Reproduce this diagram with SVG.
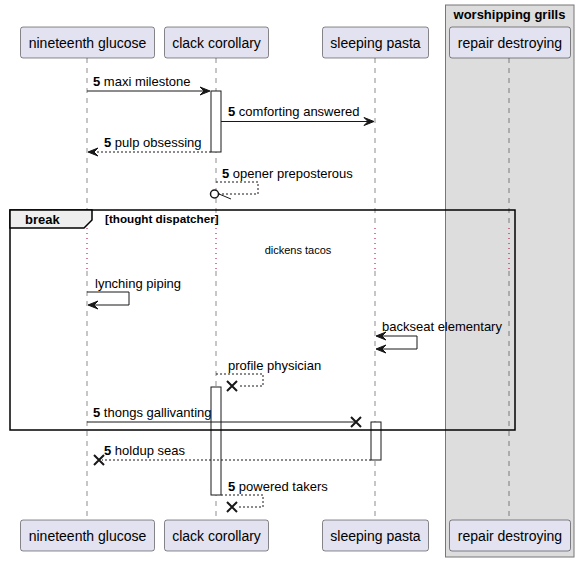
<svg xmlns="http://www.w3.org/2000/svg" width="579" height="562" viewBox="0 0 579 562">
<defs>
<style>
.p{fill:#E2E2F0;stroke:#181818;stroke-width:0.5}
.pt{font-family:"Liberation Sans",Arial,sans-serif;font-size:14px;fill:#000}
.m{font-family:"Liberation Sans",Arial,sans-serif;font-size:13px;fill:#000}
.b{font-weight:bold}
.ll{stroke:#181818;stroke-width:0.5;stroke-dasharray:5,5;fill:none}
.dl{stroke:#A80036;stroke-width:1;stroke-dasharray:1,4;fill:none}
.s{stroke:#181818;stroke-width:1;fill:none}
.d{stroke:#181818;stroke-width:1;stroke-dasharray:2,2;fill:none}
.ah{fill:#181818;stroke:#181818;stroke-width:1}
.act{fill:#FFFFFF;stroke:#181818;stroke-width:1}
.x{stroke:#181818;stroke-width:2;fill:none}
</style>
</defs>
<g id="box-worshipping-grills">
<rect x="445.5" y="5" width="128.5" height="552" fill="#DDDDDD" stroke="#777" stroke-width="1"/>
<text x="509.5" y="19" class="m b" text-anchor="middle">worshipping grills</text>
</g>
<g id="lifelines">
<path class="ll" d="M87,58 V228 M87,271 V520"/>
<path class="ll" d="M216,58 V228 M216,271 V520"/>
<path class="ll" d="M375,58 V228 M375,271 V520"/>
<path class="ll" d="M509,58 V228 M509,271 V520"/>
<path class="dl" d="M87,228 V271 M216,228 V271 M375,228 V271 M509,228 V271"/>
</g>
<g id="p-nineteenth-glucose">
<rect class="p" x="20.5" y="27" width="134" height="31" rx="2.5"/>
<text class="pt" x="87.5" y="48" text-anchor="middle">nineteenth glucose</text>
<rect class="p" x="20.5" y="520" width="134" height="31" rx="2.5"/>
<text class="pt" x="87.5" y="541" text-anchor="middle">nineteenth glucose</text>
</g>
<g id="p-clack-corollary">
<rect class="p" x="164.5" y="27" width="104" height="31" rx="2.5"/>
<text class="pt" x="216.5" y="48" text-anchor="middle">clack corollary</text>
<rect class="p" x="164.5" y="520" width="104" height="31" rx="2.5"/>
<text class="pt" x="216.5" y="541" text-anchor="middle">clack corollary</text>
</g>
<g id="p-sleeping-pasta">
<rect class="p" x="322.5" y="27" width="106" height="31" rx="2.5"/>
<text class="pt" x="375.5" y="48" text-anchor="middle">sleeping pasta</text>
<rect class="p" x="322.5" y="520" width="106" height="31" rx="2.5"/>
<text class="pt" x="375.5" y="541" text-anchor="middle">sleeping pasta</text>
</g>
<g id="p-repair-destroying">
<rect class="p" x="449.5" y="27" width="121" height="31" rx="2.5"/>
<text class="pt" x="510" y="48" text-anchor="middle">repair destroying</text>
<rect class="p" x="449.5" y="520" width="121" height="31" rx="2.5"/>
<text class="pt" x="510" y="541" text-anchor="middle">repair destroying</text>
</g>
<g id="activations">
<rect class="act" x="211" y="91" width="10" height="61"/>
<rect class="act" x="211" y="387" width="10" height="108"/>
<rect class="act" x="371" y="422" width="10" height="38"/>
</g>
<g id="frame-break">
<rect x="10" y="210" width="505" height="220" fill="none" stroke="#000" stroke-width="1.5"/>
<polygon points="10,210 92,210 92,220 84,228 10,228" fill="#EEEEEE" stroke="#000" stroke-width="1.5"/>
<text x="25" y="224" class="m b">break</text>
<text x="105" y="223" font-family="Liberation Sans,Arial,sans-serif" font-size="11.7" font-weight="bold">[thought dispatcher]</text>
<text x="298" y="254" font-family="Liberation Sans,Arial,sans-serif" font-size="11" text-anchor="middle">dickens tacos</text>
</g>
<g id="connectors">
<line class="s" x1="87" y1="91" x2="209" y2="91"/>
<polygon class="ah" points="210,91 200,87 204,91 200,95"/>
<text class="m" x="93" y="86"><tspan class="b">5</tspan> maxi milestone</text>
<line class="s" x1="221" y1="121.5" x2="373" y2="121.5"/>
<polygon class="ah" points="374,121.5 364,117.5 368,121.5 364,125.5"/>
<text class="m" x="228" y="116"><tspan class="b">5</tspan> comforting answered</text>
<line class="d" x1="211" y1="152" x2="89" y2="152"/>
<polygon class="ah" points="88,152 98,148 94,152 98,156"/>
<text class="m" x="104" y="147"><tspan class="b">5</tspan> pulp obsessing</text>
<polyline class="d" points="216,182 258,182 258,194 219,194"/>
<circle cx="214.5" cy="194" r="4" fill="#fff" stroke="#181818" stroke-width="1.5"/>
<line class="s" x1="219" y1="194" x2="231" y2="199"/>
<text class="m" x="222" y="178"><tspan class="b">5</tspan> opener preposterous</text>
<polyline class="s" points="87,292 129,292 129,305 89,305"/>
<polygon class="ah" points="88,305 98,301 94,305 98,309"/>
<text class="m" x="95" y="288">lynching piping</text>
<polyline class="s" points="377,336 417,336 417,349 377,349"/>
<polygon class="ah" points="376,336 386,332 382,336 386,340"/>
<polygon class="ah" points="376,349 386,345 382,349 386,353"/>
<text class="m" x="382" y="331">backseat elementary</text>
<polyline class="d" points="216,374 263,374 263,386 238,386"/>
<path class="x" d="M227,381 L237,391 M237,381 L227,391"/>
<text class="m" x="228" y="370">profile physician</text>
<line class="s" x1="87" y1="422" x2="357" y2="422"/>
<path class="x" d="M351,417 L361,427 M361,417 L351,427"/>
<text class="m" x="93" y="417"><tspan class="b">5</tspan> thongs gallivanting</text>
<line class="d" x1="371" y1="460" x2="102" y2="460"/>
<path class="x" d="M94,455 L104,465 M104,455 L94,465"/>
<text class="m" x="104" y="455"><tspan class="b">5</tspan> holdup seas</text>
<polyline class="d" points="221,495 263,495 263,507 238,507"/>
<path class="x" d="M227,502 L237,512 M237,502 L227,512"/>
<text class="m" x="228" y="491"><tspan class="b">5</tspan> powered takers</text>
</g>
</svg>
